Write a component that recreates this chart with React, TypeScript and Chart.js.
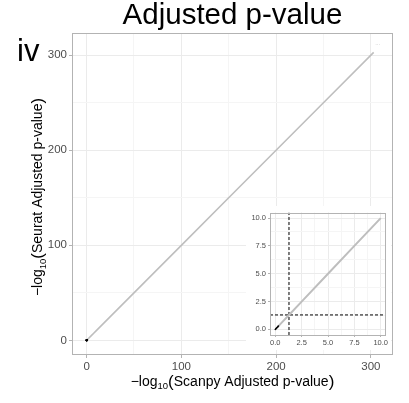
import React, { useEffect, useRef } from "react";
import { Chart, registerables } from "chart.js";
Chart.register(...registerables);

// ---------- data ----------
const scanpyLogP = [0, 0.1, 0.3, 0.7, 1.3, 2.5, 5, 7.5, 10, 25, 50, 100, 150, 200, 250, 303];
const seuratLogP = [0, 0.1, 0.3, 0.7, 1.3, 2.5, 5, 7.5, 10, 25, 50, 100, 150, 200, 250, 303];
const sigScanpy = [0, 0.05, 0.1, 0.15, 0.2, 0.25, 0.3];
const sigSeurat = [0, 0.05, 0.1, 0.15, 0.2, 0.25, 0.3];
const threshold = 1.301; // -log10(0.05)
const mainLimits = [-15.4, 323.4];
const insetLimits = [-0.5, 10.5];
const mainTicks = [0, 50, 100, 150, 200, 250, 300];
const mainMajorTicks = [0, 100, 200, 300];
const insetTicks = [0, 1.25, 2.5, 3.75, 5, 6.25, 7.5, 8.75, 10];
const insetMajorTicks = [0, 2.5, 5, 7.5, 10];
const chartTitle = "Adjusted p-value";
const panelTag = "iv";
const topLabel = "\u00B7\u00B7\u00B7";

const FONT = '"Liberation Sans", Arial, Helvetica, sans-serif';
const LINE_GREY = "#BEBEBE";
const TEXT_GREY = "#4D4D4D";

type Part = { t: string; size: number; dy?: number };
const xTitleParts: Part[] = [
  { t: "\u2212log", size: 14 },
  { t: "10", size: 9.5, dy: 3.5 },
  { t: "(", size: 17, dy: 1 },
  { t: "Scanpy Adjusted p-value", size: 14 },
  { t: ")", size: 17, dy: 1 },
];
const yTitleParts: Part[] = [
  { t: "\u2212log", size: 14 },
  { t: "10", size: 9.5, dy: 3.5 },
  { t: "(", size: 17, dy: 1 },
  { t: "Seurat Adjusted p-value", size: 14 },
  { t: ")", size: 17, dy: 1 },
];

function drawMath(ctx: CanvasRenderingContext2D, parts: Part[], cx: number, cy: number, rotate: boolean) {
  ctx.save();
  ctx.translate(cx, cy);
  if (rotate) ctx.rotate(-Math.PI / 2);
  ctx.textAlign = "left";
  ctx.textBaseline = "alphabetic";
  ctx.fillStyle = "#000";
  const widths = parts.map((p) => {
    ctx.font = `${p.size}px ${FONT}`;
    return ctx.measureText(p.t).width;
  });
  const total = widths.reduce((a, b) => a + b, 0);
  let x = -total / 2;
  parts.forEach((p, i) => {
    ctx.font = `${p.size}px ${FONT}`;
    ctx.fillText(p.t, x, p.dy || 0);
    x += widths[i];
  });
  ctx.restore();
}

function isIn(list: number[], v: number) {
  return list.some((m) => Math.abs(m - v) < 1e-9);
}

function makeScale(
  horizontal: boolean,
  limits: number[],
  ticks: number[],
  major: number[],
  fmt: (v: number) => string,
  fontSize: number,
  tickLen: number,
  pad: number,
  fixed: number
) {
  return {
    type: "linear",
    position: horizontal ? "bottom" : "left",
    min: limits[0],
    max: limits[1],
    afterBuildTicks: (scale: any) => {
      scale.ticks = ticks.map((v) => ({ value: v }));
    },
    afterFit: (scale: any) => {
      if (horizontal) scale.height = fixed;
      else scale.width = fixed;
    },
    ticks: {
      autoSkip: false,
      maxRotation: 0,
      minRotation: 0,
      padding: pad,
      color: TEXT_GREY,
      font: { family: FONT, size: fontSize },
      callback: (v: any) => (isIn(major, Number(v)) ? fmt(Number(v)) : ""),
    },
    grid: {
      color: (c: any) => (c.tick && isIn(major, c.tick.value) ? "#EBEBEB" : "#F5F5F5"),
      lineWidth: 1,
      drawTicks: true,
      tickLength: tickLen,
      tickColor: (c: any) => (c.tick && isIn(major, c.tick.value) ? "#B3B3B3" : "rgba(0,0,0,0)"),
    },
    border: { display: false },
    title: { display: false },
  };
}

const panelBorder = {
  id: "panelBorder",
  afterDraw(chart: any) {
    const { ctx, chartArea: a } = chart;
    ctx.save();
    ctx.strokeStyle = "#B3B3B3";
    ctx.lineWidth = 1;
    ctx.strokeRect(Math.round(a.left) + 0.5, Math.round(a.top) + 0.5, Math.round(a.right - a.left) - 1, Math.round(a.bottom - a.top) - 1);
    ctx.restore();
  },
};

const mainText = {
  id: "mainText",
  afterDraw(chart: any) {
    const { ctx, chartArea: a } = chart;
    ctx.save();
    ctx.fillStyle = "#000";
    ctx.textBaseline = "alphabetic";
    ctx.textAlign = "center";
    ctx.font = `29.5px ${FONT}`;
    ctx.fillText(chartTitle, (a.left + a.right) / 2, 24);
    ctx.textAlign = "left";
    ctx.font = `31px ${FONT}`;
    ctx.fillText(panelTag, 17, 61);
    ctx.restore();
    drawMath(ctx, xTitleParts, (a.left + a.right) / 2, 385.5, false);
    drawMath(ctx, yTitleParts, 42, (a.top + a.bottom) / 2 + 3, true);
    // tiny label next to the top-right end of the line
    const meta = chart.getDatasetMeta(1);
    const last = meta.data[meta.data.length - 1];
    if (last) {
      ctx.save();
      ctx.fillStyle = "#AAAAAA";
      ctx.font = `5px ${FONT}`;
      ctx.textAlign = "center";
      ctx.fillText(topLabel, last.x + 4, last.y - 6);
      ctx.restore();
    }
  },
};

export default function App() {
  const mainRef = useRef<HTMLCanvasElement>(null);
  const insetRef = useRef<HTMLCanvasElement>(null);

  useEffect(() => {
    document.body.style.margin = "0";
    const linePts = scanpyLogP.map((x, i) => ({ x, y: seuratLogP[i] }));
    const sigPts = sigScanpy.map((x, i) => ({ x, y: sigSeurat[i] }));

    const main = new Chart(mainRef.current!, {
      type: "scatter",
      data: {
        datasets: [
          {
            data: sigPts,
            backgroundColor: "#000",
            borderColor: "#000",
            pointRadius: 1.1,
            borderWidth: 0,
            order: 0,
          },
          {
            type: "line",
            data: linePts,
            borderColor: LINE_GREY,
            borderWidth: 1.6,
            pointRadius: 0,
            showLine: true,
            tension: 0,
            order: 1,
          },
        ] as any,
      },
      options: {
        animation: false,
        responsive: false,
        events: [],
        layout: { padding: { left: 0, right: 16, top: 33, bottom: 0 } },
        plugins: { legend: { display: false }, tooltip: { enabled: false }, title: { display: false } },
        scales: {
          x: makeScale(true, mainLimits, mainTicks, mainMajorTicks, (v) => String(v), 11.5, 3, 2, 48) as any,
          y: makeScale(false, mainLimits, mainTicks, mainMajorTicks, (v) => String(v), 11.5, 3, 2, 72) as any,
        },
      },
      plugins: [panelBorder, mainText],
    });

    const insetLine = linePts.filter((p) => p.x <= insetLimits[1] && p.y <= insetLimits[1]);
    const inset = new Chart(insetRef.current!, {
      type: "scatter",
      data: {
        datasets: [
          {
            data: sigPts,
            backgroundColor: "#000",
            borderColor: "#000",
            pointRadius: 0.8,
            borderWidth: 0,
            order: 0,
          },
          {
            type: "line",
            data: insetLine,
            borderColor: LINE_GREY,
            borderWidth: 2,
            pointRadius: 0,
            showLine: true,
            tension: 0,
            order: 1,
          },
          {
            type: "line",
            data: [
              { x: threshold, y: insetLimits[0] },
              { x: threshold, y: insetLimits[1] },
            ],
            borderColor: "#000",
            borderWidth: 1,
            borderDash: [3, 2],
            pointRadius: 0,
            showLine: true,
            order: 2,
          },
          {
            type: "line",
            data: [
              { x: insetLimits[0], y: threshold },
              { x: insetLimits[1], y: threshold },
            ],
            borderColor: "#000",
            borderWidth: 1,
            borderDash: [3, 2],
            pointRadius: 0,
            showLine: true,
            order: 2,
          },
        ] as any,
      },
      options: {
        animation: false,
        responsive: false,
        events: [],
        layout: { padding: { left: 0, right: 5, top: 5, bottom: 0 } },
        plugins: { legend: { display: false }, tooltip: { enabled: false }, title: { display: false } },
        scales: {
          x: makeScale(true, insetLimits, insetTicks, insetMajorTicks, (v) => v.toFixed(1), 7.5, 2, 1, 15) as any,
          y: makeScale(false, insetLimits, insetTicks, insetMajorTicks, (v) => v.toFixed(1), 7.5, 2, 2, 24) as any,
        },
      },
      plugins: [panelBorder],
    });

    return () => {
      main.destroy();
      inset.destroy();
    };
  }, []);

  return (
    <div style={{ position: "relative", width: 409, height: 403, background: "#fff" }}>
      <canvas ref={mainRef} width={409} height={403} style={{ position: "absolute", left: 0, top: 0, width: 409, height: 403 }} />
      <canvas
        ref={insetRef}
        width={145}
        height={144}
        style={{ position: "absolute", left: 246, top: 206, width: 145, height: 144, background: "#fff" }}
      />
    </div>
  );
}
